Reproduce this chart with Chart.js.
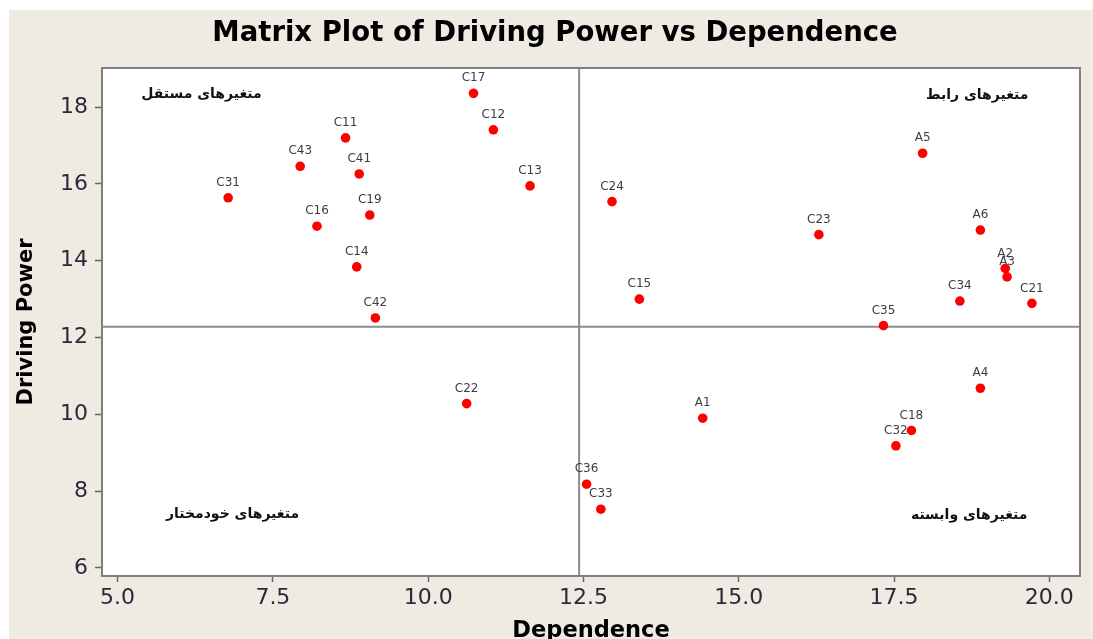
<!DOCTYPE html>
<html><head><meta charset="utf-8">
<script src="https://cdn.jsdelivr.net/npm/chart.js@4.4.0/dist/chart.umd.min.js"></script>
<style>
html,body{margin:0;padding:0;background:#fff;overflow:hidden;width:1093px;height:639px}
#wrap{position:absolute;left:9px;top:10px;width:1084px;height:645px;background:#efebe2}
canvas{display:block}
</style></head><body>
<div id="wrap"><canvas id="c" width="1084" height="645"></canvas></div>
<script>
const names        = ['C17','C12','C11','C43','C41','C31','C13','C19','C16','C14','C42','A5','C24','C23','A6','A2','A3','C15','C34','C21','C35','C22','A4','A1','C18','C32','C36','C33'];
const dependence   = [10.73,11.05,8.67,7.94,8.89,6.78,11.64,9.06,8.21,8.85,9.15,17.96,12.96,16.29,18.89,19.29,19.32,13.40,18.56,19.72,17.33,10.62,18.89,14.42,17.78,17.53,12.55,12.78];
const drivingPower = [18.36,17.41,17.20,16.46,16.26,15.64,15.95,15.19,14.90,13.84,12.51,16.80,15.54,14.68,14.80,13.80,13.58,13.00,12.95,12.89,12.31,10.28,10.68,9.90,9.58,9.18,8.18,7.53];
const xTicks = [5, 7.5, 10, 12.5, 15, 17.5, 20];
const yTicks = [6, 8, 10, 12, 14, 16, 18];
const xRange = [4.749, 20.494];
const yRange = [5.79, 19.02];
const xDivider = 12.43;
const yDivider = 12.28;
const quadrantLabels = ['متغیرهای مستقل', 'متغیرهای رابط', 'متغیرهای خودمختار', 'متغیرهای وابسته'];
const quadrantX = [6.35, 18.84, 6.85, 18.71];
const quadrantY = [18.33, 18.31, 7.40, 7.36];
const chartTitle = 'Matrix Plot of Driving Power vs Dependence';

const points = names.map((n, i) => ({x: dependence[i], y: drivingPower[i]}));

const deco = {
  id: 'deco',
  beforeDraw(chart) {
    const {ctx, chartArea: a} = chart;
    ctx.save();
    ctx.fillStyle = '#ffffff';
    ctx.fillRect(a.left, a.top, a.right - a.left, a.bottom - a.top);
    ctx.fillStyle = '#000';
    ctx.font = 'bold 27.5px "DejaVu Sans"';
    ctx.textAlign = 'center';
    ctx.textBaseline = 'middle';
    ctx.fillText(chartTitle, 546, 24);
    ctx.restore();
  },
  afterDatasetsDraw(chart) {
    const {ctx, chartArea: a, scales} = chart;
    ctx.save();
    ctx.strokeStyle = '#808080';
    ctx.lineWidth = 2;
    ctx.strokeRect(a.left, a.top, a.right - a.left, a.bottom - a.top);
    const meta = chart.getDatasetMeta(0);
    ctx.fillStyle = '#3c3c48';
    ctx.font = '12px "DejaVu Sans"';
    ctx.textAlign = 'center';
    ctx.textBaseline = 'middle';
    meta.data.forEach((el, i) => {
      ctx.fillText(names[i], el.x, el.y - 15);
    });
    ctx.fillStyle = '#111';
    ctx.font = 'bold 14px "DejaVu Sans"';
    quadrantLabels.forEach((t, i) => {
      ctx.fillText(t, scales.x.getPixelForValue(quadrantX[i]), scales.y.getPixelForValue(quadrantY[i]));
    });
    ctx.restore();
  }
};

new Chart(document.getElementById('c'), {
  data: {
    datasets: [
      {type: 'scatter', data: points, backgroundColor: '#ff0000', borderWidth: 0, pointRadius: 4.8, order: 0},
      {type: 'line', data: [{x: xRange[0], y: yDivider}, {x: xRange[1], y: yDivider}], borderColor: '#8c8c8c', borderWidth: 2, pointRadius: 0, order: 1},
      {type: 'line', data: [{x: xDivider, y: yRange[0]}, {x: xDivider, y: yRange[1]}], borderColor: '#8c8c8c', borderWidth: 2, pointRadius: 0, order: 1}
    ]
  },
  options: {
    responsive: false,
    animation: false,
    devicePixelRatio: 1,
    layout: {padding: {left: 0, right: 13, top: 58, bottom: 0}},
    plugins: {legend: {display: false}, tooltip: {enabled: false}, title: {display: false}},
    scales: {
      x: {
        type: 'linear', min: xRange[0], max: xRange[1],
        afterBuildTicks: s => { s.ticks = xTicks.map(v => ({value: v})); },
        afterFit: s => { s.height = 79; },
        grid: {drawOnChartArea: false, drawTicks: true, tickLength: 6, tickColor: '#666', tickWidth: 1.5},
        border: {display: true, color: '#808080', width: 2},
        ticks: {color: '#2a2a3a', font: {family: 'DejaVu Sans', size: 22}, padding: 3, callback: v => Number(v).toFixed(1), maxRotation: 0, autoSkip: false},
        title: {display: true, text: 'Dependence', color: '#000', font: {family: 'DejaVu Sans', size: 22.5, weight: 'bold'}, padding: {top: 0, bottom: 10}}
      },
      y: {
        type: 'linear', min: yRange[0], max: yRange[1],
        afterBuildTicks: s => { s.ticks = yTicks.map(v => ({value: v})); },
        afterFit: s => { s.width = 93; },
        grid: {drawOnChartArea: false, drawTicks: true, tickLength: 7, tickColor: '#666', tickWidth: 1.5},
        border: {display: true, color: '#808080', width: 2},
        ticks: {color: '#2a2a3a', font: {family: 'DejaVu Sans', size: 22}, padding: 7, autoSkip: false},
        title: {display: true, text: 'Driving Power', color: '#000', font: {family: 'DejaVu Sans', size: 21, weight: 'bold'}, padding: {top: 5.4, bottom: 0}}
      }
    }
  },
  plugins: [deco]
});
</script>
</body></html>
